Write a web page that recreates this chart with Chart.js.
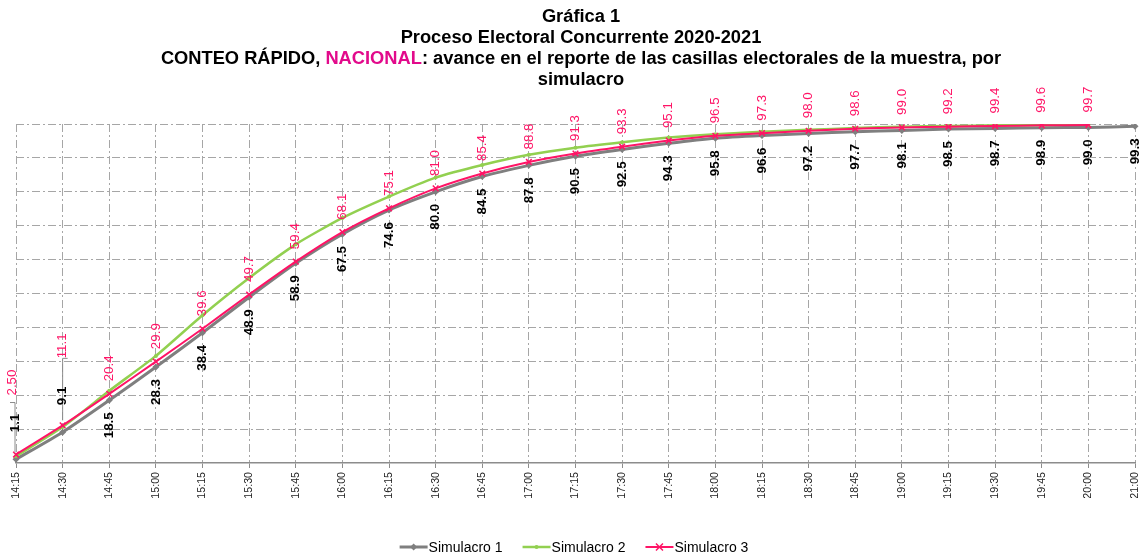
<!DOCTYPE html>
<html><head><meta charset="utf-8">
<script src="https://cdn.jsdelivr.net/npm/chart.js@4.4.0/dist/chart.umd.min.js"></script>
<style>
html,body{margin:0;padding:0;background:#fff;}
#wrap{position:relative;width:1146px;height:558px;overflow:hidden;}
#c{position:absolute;left:0;top:0;}
#title{position:absolute;left:0;top:5px;width:1162px;text-align:center;font:bold 18.3px "Liberation Sans",Arial,sans-serif;line-height:21px;color:#000;}
.mag{color:#E20A8B;}
</style></head><body>
<div id="wrap"><canvas id="c" width="1146" height="558"></canvas>
<div id="title">Gráfica 1<br>Proceso Electoral Concurrente 2020-2021<br>CONTEO RÁPIDO, <span class="mag">NACIONAL</span>: avance en el reporte de las casillas electorales de la muestra, por<br>simulacro</div></div>
<script>
const categories = ['14:15','14:30','14:45','15:00','15:15','15:30','15:45','16:00','16:15','16:30','16:45','17:00','17:15','17:30','17:45','18:00','18:15','18:30','18:45','19:00','19:15','19:30','19:45','20:00','21:00'];
const simulacro1 = [1.1,9.1,18.5,28.3,38.4,48.9,58.9,67.5,74.6,80.0,84.5,87.8,90.5,92.5,94.3,95.8,96.6,97.2,97.7,98.1,98.5,98.7,98.9,99.0,99.3];
const simulacro2 = [2.0,10.6,21.3,31.6,43.6,54.6,64.5,72.3,78.6,84.2,87.9,90.9,93.0,94.6,96.0,97.0,97.7,98.3,98.8,99.2,99.4,99.6,99.7,99.8,null];
const simulacro3 = [2.50,11.1,20.4,29.9,39.6,49.7,59.4,68.1,75.1,81.0,85.4,88.8,91.3,93.3,95.1,96.5,97.3,98.0,98.6,99.0,99.2,99.4,99.6,99.7,null];
const seriesNames = ['Simulacro 1','Simulacro 2','Simulacro 3'];
const yTicks = [0,10,20,30,40,50,60,70,80,90,100];

const C1='#7f7f7f', C2='#92D050', C3='#FF1466';
const FONT='"Liberation Sans", Arial, sans-serif';

function fmt3(v,i){ return i===0 ? v.toFixed(2) : v.toFixed(1); }

function drawMarker(ctx, style, x, y, r, color){
  ctx.save();
  ctx.fillStyle=color; ctx.strokeStyle=color; ctx.lineWidth=1.5;
  ctx.beginPath();
  if(style==='rectRot'){ ctx.moveTo(x,y-r); ctx.lineTo(x+r,y); ctx.lineTo(x,y+r); ctx.lineTo(x-r,y); ctx.closePath(); ctx.fill(); }
  else if(style==='circle'){ ctx.arc(x,y,r,0,Math.PI*2); ctx.fill(); }
  else { ctx.moveTo(x-r,y-r); ctx.lineTo(x+r,y+r); ctx.moveTo(x+r,y-r); ctx.lineTo(x-r,y+r); ctx.stroke(); }
  ctx.restore();
}

const labelsPlugin = {
  id:'valueLabels',
  afterDatasetsDraw(chart){
    const ctx=chart.ctx;
    const m1=chart.getDatasetMeta(0), m3=chart.getDatasetMeta(2);
    ctx.save();
    ctx.textBaseline='middle';
    ctx.strokeStyle='#8c8c8c'; ctx.lineWidth=1;
    const p0=m3.data[0], p1=m3.data[1];
    ctx.beginPath();
    ctx.moveTo(p0.x-1,p0.y-2); ctx.lineTo(p0.x-1,p0.y-52); ctx.lineTo(p0.x-6,p0.y-52);
    ctx.moveTo(p1.x,p1.y-5); ctx.lineTo(p1.x,p1.y-67); ctx.lineTo(p1.x+5,p1.y-67);
    ctx.stroke();
    ctx.font='bold 13.33px '+FONT; ctx.fillStyle='#000';
    m1.data.forEach((pt,i)=>{
      const v=simulacro1[i]; if(v==null) return;
      ctx.save(); ctx.translate(pt.x,pt.y); ctx.rotate(-Math.PI/2);
      if(i===0){ ctx.textAlign='left'; ctx.fillText(v.toFixed(1),27,-1); }
      else if(i===1){ ctx.textAlign='left'; ctx.fillText(v.toFixed(1),27,0); }
      else { ctx.textAlign='right'; ctx.fillText(v.toFixed(1),-12,0); }
      ctx.restore();
    });
    ctx.font='13.33px '+FONT; ctx.fillStyle=C3;
    m3.data.forEach((pt,i)=>{
      const v=simulacro3[i]; if(v==null) return;
      ctx.save(); ctx.translate(pt.x,pt.y); ctx.rotate(-Math.PI/2);
      ctx.textAlign='left';
      if(i===0){ ctx.fillText(fmt3(v,i),59,-3.5); }
      else if(i===1){ ctx.fillText(fmt3(v,i),67,0); }
      else { ctx.fillText(fmt3(v,i),12.5,0); }
      ctx.restore();
    });
    ctx.restore();
  },
  afterDraw(chart){
    const ctx=chart.ctx;
    const items=[{c:C1,s:'rectRot',r:3.5,w:3},{c:C2,s:'circle',r:2,w:2.5},{c:C3,s:'cross',r:3.5,w:2}];
    ctx.save();
    ctx.font='14px '+FONT; ctx.textBaseline='middle'; ctx.textAlign='left';
    const iconW=28, gap=1, sep=20;
    let total=0;
    items.forEach((it,i)=>{ total+=iconW+gap+ctx.measureText(seriesNames[i]).width; if(i<2) total+=sep; });
    let x=574-total/2; const y=547;
    items.forEach((it,i)=>{
      ctx.strokeStyle=it.c; ctx.lineWidth=it.w;
      ctx.beginPath(); ctx.moveTo(x,y); ctx.lineTo(x+iconW,y); ctx.stroke();
      drawMarker(ctx,it.s,x+iconW/2,y,it.r,it.c);
      ctx.fillStyle='#000';
      ctx.fillText(seriesNames[i],x+iconW+gap,y+1);
      x+=iconW+gap+ctx.measureText(seriesNames[i]).width+sep;
    });
    ctx.restore();
  }
};

const GRID='#a6a6a6';
new Chart(document.getElementById('c'),{
  type:'line',
  data:{
    labels:categories,
    datasets:[
      {label:seriesNames[0],data:simulacro1,borderColor:C1,backgroundColor:C1,borderWidth:3,pointStyle:'rectRot',pointRadius:3.5,pointBorderWidth:0,tension:0.2,order:2},
      {label:seriesNames[1],data:simulacro2,borderColor:C2,backgroundColor:C2,borderWidth:2.5,pointStyle:'circle',pointRadius:2,pointBorderWidth:0,tension:0.2,order:1},
      {label:seriesNames[2],data:simulacro3,borderColor:C3,backgroundColor:C3,borderWidth:2,pointStyle:'crossRot',pointRadius:4,pointBorderWidth:1.5,tension:0.2,order:0}
    ]
  },
  options:{
    responsive:false, animation:false, devicePixelRatio:1,
    layout:{padding:{left:16,right:11,top:124,bottom:60}},
    plugins:{legend:{display:false},tooltip:{enabled:false},title:{display:false}},
    scales:{
      x:{
        offset:false,
        afterFit(s){ s.paddingLeft=0; s.paddingRight=0; s.height=35; },
        grid:{color:GRID,lineWidth:1,drawTicks:true,tickLength:5,tickColor:'#8c8c8c',tickWidth:1,tickBorderDash:[]},
        border:{display:true,color:'#8c8c8c',width:1.5,dash:[8,3,2,3]},
        ticks:{autoSkip:false,maxRotation:90,minRotation:90,padding:4,color:'#222',font:{family:FONT,size:10.67}}
      },
      y:{
        min:0,max:100,
        afterFit(s){ s.width=0; s.paddingTop=0; s.paddingBottom=0; },
        afterBuildTicks(s){ s.ticks=yTicks.map(v=>({value:v})); },
        grid:{color:(c)=>c.tick && c.tick.value===0?'rgba(0,0,0,0)':GRID,lineWidth:1,drawTicks:false},
        border:{display:false,dash:[8,3,2,3]},
        ticks:{display:false}
      }
    }
  },
  plugins:[labelsPlugin]
});
</script>
</body></html>
